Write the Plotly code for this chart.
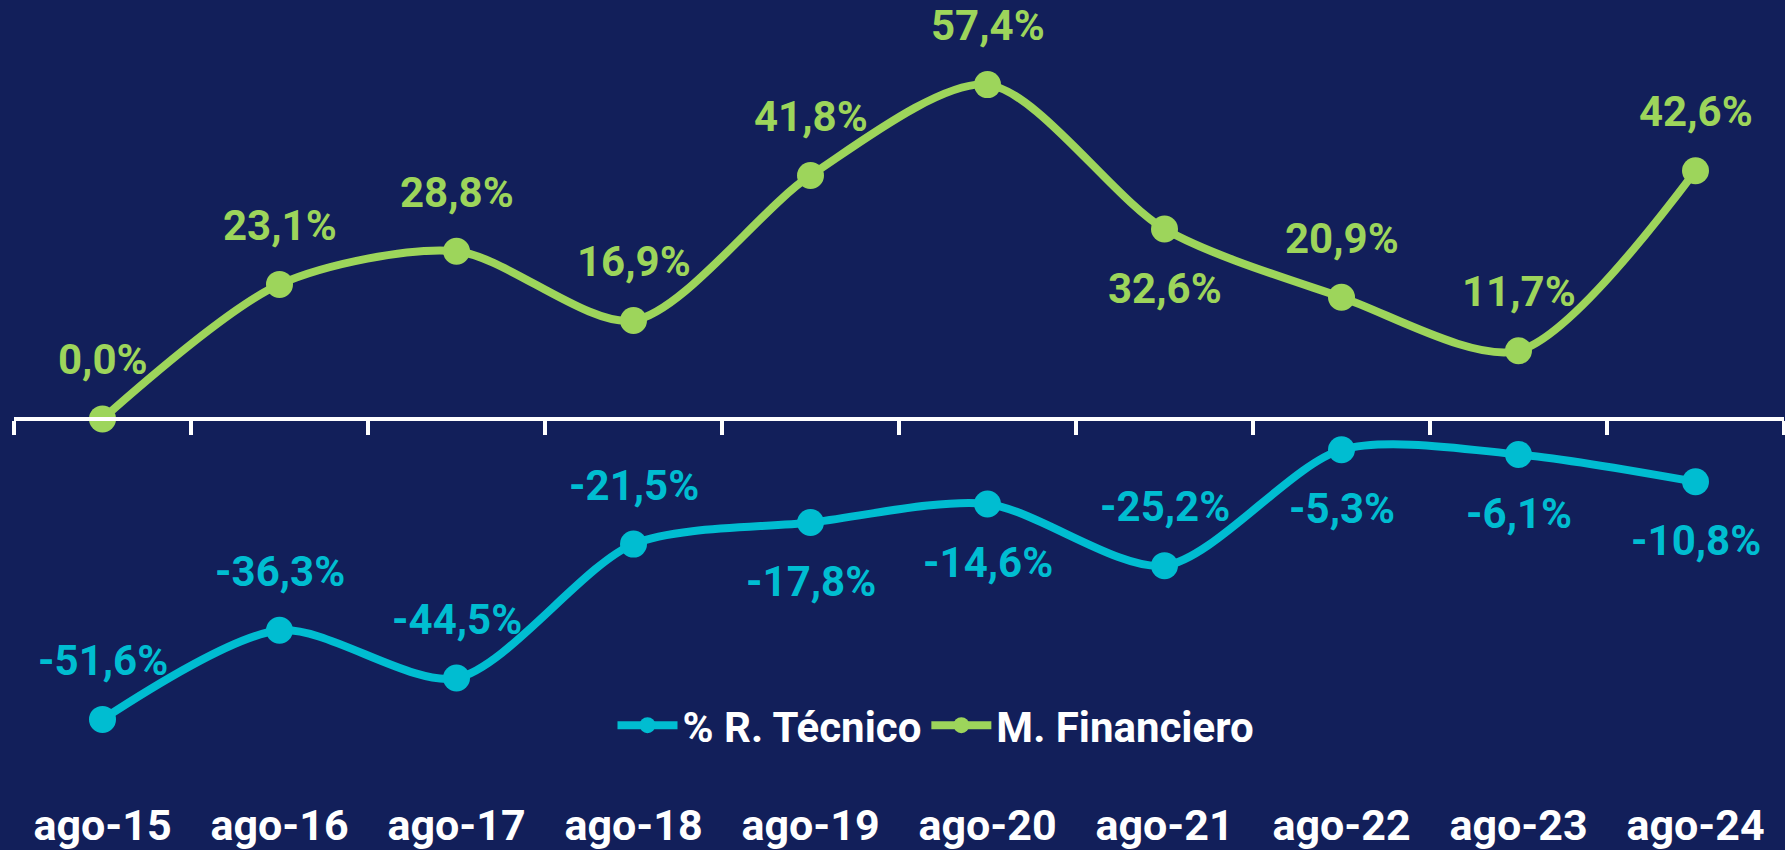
import plotly.graph_objects as go

categories = ["ago-15", "ago-16", "ago-17", "ago-18", "ago-19",
              "ago-20", "ago-21", "ago-22", "ago-23", "ago-24"]
tecnico = [-51.6, -36.3, -44.5, -21.5, -17.8, -14.6, -25.2, -5.3, -6.1, -10.8]
financiero = [0.0, 23.1, 28.8, 16.9, 41.8, 57.4, 32.6, 20.9, 11.7, 42.6]
tecnico_pos = ["above", "above", "above", "above", "below",
               "below", "above", "below", "below", "below"]
financiero_pos = ["above", "above", "above", "above", "above",
                  "above", "below", "above", "above", "above"]

BG = "#121F5A"
CYAN = "#00BDD1"
GREEN = "#9DD55B"
FONT = "Roboto"

W, H = 1785, 850
ML, MR, MT, MB = 14, 1, 0, 50
ymin, ymax = -64.75, 71.93
PW, PH = W - ML - MR, H - MT - MB

fig = go.Figure()
fig.add_trace(go.Scatter(
    x=categories, y=tecnico, name="% R. Técnico", mode="lines+markers",
    xaxis="x2",
    line=dict(color=CYAN, width=8, shape="spline", smoothing=0.8),
    marker=dict(color=CYAN, size=27)))
fig.add_trace(go.Scatter(
    x=categories, y=financiero, name="M. Financiero", mode="lines+markers",
    line=dict(color=GREEN, width=8, shape="spline", smoothing=0.8),
    marker=dict(color=GREEN, size=27)))

def fmt(v):
    return ("%.1f" % v).replace(".", ",") + "%"

ann = []
for vals, pos, col in ((tecnico, tecnico_pos, CYAN), (financiero, financiero_pos, GREEN)):
    for c, v, p in zip(categories, vals, pos):
        ann.append(dict(x=c, y=v, xref="x", yref="y", text=fmt(v), showarrow=False,
                        yshift=59 if p == "above" else -59,
                        font=dict(family=FONT, size=42, color=col, weight="bold")))

n = len(categories)

fig.update_layout(
    width=W, height=H, margin=dict(l=ML, r=MR, t=MT, b=MB),
    paper_bgcolor=BG, plot_bgcolor=BG,
    showlegend=True,
    legend=dict(orientation="h", x=(936 - ML) / PW, y=1 - (729 - MT) / PH,
                xanchor="center", yanchor="middle",
                bgcolor="rgba(0,0,0,0)", itemwidth=60,
                font=dict(family=FONT, size=42, color="white", weight="bold")),
    xaxis=dict(type="category", categoryarray=categories, range=[-0.5, n - 0.5],
               showgrid=False, zeroline=False, showline=False, ticks="",
               tickfont=dict(family=FONT, size=43, color="white", weight="bold")),
    xaxis2=dict(type="category", categoryarray=categories, overlaying="x", anchor="free",
                position=(0 - ymin) / (ymax - ymin),
                range=[-0.5, n - 0.5], tickson="boundaries",
                showticklabels=False, showgrid=False, zeroline=False,
                showline=True, linecolor="white", linewidth=4,
                ticks="outside", ticklen=14, tickwidth=4, tickcolor="white"),
    yaxis=dict(range=[ymin, ymax], visible=False, showgrid=False, zeroline=False),
    annotations=ann,
)

fig.write_html("out.html", config={"displayModeBar": False},
               post_script="document.body.style.margin='0';document.body.style.overflow='hidden';")
